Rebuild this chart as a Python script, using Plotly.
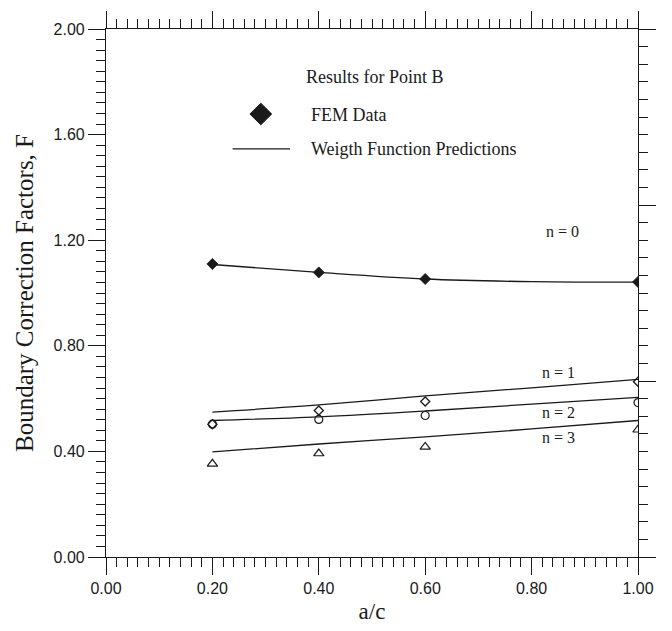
import plotly.graph_objects as go

# ---- data ----
x_fem = [0.2, 0.4, 0.6, 1.0]
fem_n0 = [1.110, 1.078, 1.053, 1.042]
fem_n1 = [0.503, 0.555, 0.589, 0.664]
fem_n2 = [0.503, 0.521, 0.536, 0.585]
fem_n3 = [0.353, 0.392, 0.417, 0.482]

x_wf = [0.2, 0.4, 0.6, 0.8, 1.0]
wf_n0 = [1.108, 1.078, 1.053, 1.043, 1.041]
wf_n1 = [0.549, 0.576, 0.610, 0.641, 0.673]
wf_n2 = [0.517, 0.531, 0.553, 0.579, 0.605]
wf_n3 = [0.398, 0.428, 0.455, 0.485, 0.517]

x_ticks = [0.0, 0.2, 0.4, 0.6, 0.8, 1.0]
y_ticks = [0.0, 0.4, 0.8, 1.2, 1.6, 2.0]

INK = "#1a1a1a"
SERIF = "Liberation Serif, Times New Roman, serif"
SANS = "Liberation Sans, Arial, sans-serif"

fig = go.Figure()

for yv in [wf_n0, wf_n1, wf_n2, wf_n3]:
    fig.add_trace(go.Scatter(x=x_wf, y=yv, mode="lines",
                             line=dict(color=INK, width=1.3, shape="spline"),
                             showlegend=False, hoverinfo="skip"))

fig.add_trace(go.Scatter(x=x_fem, y=fem_n0, mode="markers",
                         marker=dict(symbol="diamond", size=8.5, color=INK,
                                     line=dict(width=0.8, color=INK)),
                         showlegend=False))
fig.add_trace(go.Scatter(x=x_fem, y=fem_n1, mode="markers",
                         marker=dict(symbol="diamond-open", size=7, color=INK,
                                     line=dict(width=1.3)),
                         showlegend=False))
fig.add_trace(go.Scatter(x=x_fem, y=fem_n2, mode="markers",
                         marker=dict(symbol="circle-open", size=8, color=INK,
                                     line=dict(width=1.2)),
                         showlegend=False))
fig.add_trace(go.Scatter(x=x_fem, y=fem_n3, mode="markers",
                         marker=dict(symbol="triangle-up-open", size=9, color=INK,
                                     line=dict(width=1.2)),
                         showlegend=False))

# dummy trace to activate the top / right axes
fig.add_trace(go.Scatter(x=[None], y=[None], xaxis="x2", yaxis="y2",
                         showlegend=False, hoverinfo="skip"))

axis_common = dict(showline=True, linecolor=INK, linewidth=1.2, mirror=False,
                   ticks="outside", ticklen=17, tickwidth=1.2, tickcolor=INK,
                   showgrid=False, zeroline=False)

fig.update_layout(
    width=672, height=631,
    margin=dict(l=106, r=34, t=27, b=73),
    paper_bgcolor="white", plot_bgcolor="white",
    xaxis=dict(range=[0, 1], tickvals=x_ticks, tickformat=".2f",
               tickfont=dict(family=SANS, size=16, color=INK),
               minor=dict(dtick=0.02, ticklen=9, tickwidth=1.2, tickcolor=INK,
                          ticks="outside"),
               title=dict(text="a/c", font=dict(family=SERIF, size=23, color=INK),
                          standoff=6),
               **axis_common),
    yaxis=dict(range=[0, 2], tickvals=y_ticks, tickformat=".2f",
               tickfont=dict(family=SANS, size=16, color=INK),
               minor=dict(dtick=0.04, ticklen=9, tickwidth=1.2, tickcolor=INK,
                          ticks="outside"),
               title=dict(text="Boundary Correction Factors, F",
                          font=dict(family=SERIF, size=25, color=INK), standoff=12),
               **axis_common),
    xaxis2=dict(range=[0, 1], overlaying="x", side="top", dtick=0.2,
                showticklabels=False,
                minor=dict(dtick=0.02, ticklen=9, tickwidth=1.2, tickcolor=INK,
                           ticks="outside"),
                **axis_common),
    yaxis2=dict(range=[0, 30], overlaying="y", side="right", dtick=10,
                showticklabels=False,
                minor=dict(dtick=1, ticklen=9, tickwidth=1.2, tickcolor=INK,
                           ticks="outside"),
                **axis_common),
)

# legend block (drawn manually)
ann_font = dict(family=SERIF, size=18, color=INK)
fig.add_annotation(xref="paper", yref="paper", x=0.505, y=0.910,
                   text="Results for Point B", showarrow=False,
                   font=ann_font, xanchor="center", yanchor="middle")
fig.add_annotation(xref="paper", yref="paper", x=0.381, y=0.837,
                   text="FEM Data", showarrow=False,
                   font=ann_font, xanchor="left", yanchor="middle")
fig.add_annotation(xref="paper", yref="paper", x=0.381, y=0.773,
                   text="Weigth Function Predictions", showarrow=False,
                   font=ann_font, xanchor="left", yanchor="middle")
# legend glyphs
cx, cy, hw, hh = 0.291, 0.839, 0.0205, 0.0205
fig.add_shape(type="path", xref="paper", yref="paper",
              path=f"M {cx-hw} {cy} L {cx} {cy+hh} L {cx+hw} {cy} L {cx} {cy-hh} Z",
              fillcolor=INK, line=dict(color=INK, width=1))
fig.add_shape(type="line", xref="paper", yref="paper",
              x0=0.238, x1=0.346, y0=0.773, y1=0.773,
              line=dict(color=INK, width=1.3))

# curve labels
lab_font = dict(family=SERIF, size=16, color=INK)
for txt, xx, yy in [("n = 0", 0.858, 1.233), ("n = 1", 0.850, 0.698),
                    ("n = 2", 0.850, 0.549), ("n = 3", 0.850, 0.451)]:
    fig.add_annotation(x=xx, y=yy, text=txt, showarrow=False,
                       font=lab_font, xanchor="center", yanchor="middle")

fig.write_html("out.html", config={"displayModeBar": False},
               post_script="document.body.style.margin='0';")
